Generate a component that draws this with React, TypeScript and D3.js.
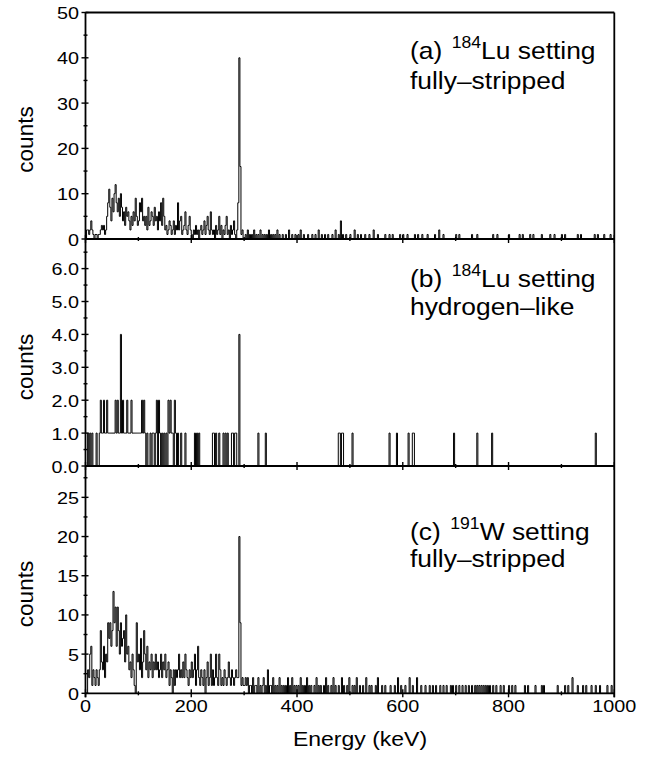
import React from "react";
import * as d3 from "d3";

// ---------- data ----------
const ENERGY_MAX = 1000;
const BIN_WIDTH = 2; // keV per channel

const xMajorTicks = [0, 200, 400, 600, 800, 1000];
const xMinorTicks = [100, 300, 500, 700, 900];

// panel (a): 184Lu setting, fully-stripped; dense counts for 0..298 keV (2 keV bins)
const panelALow = [
  0, 2, 2, 1, 2, 4, 2, 1, 0, 1,
  1, 0, 1, 1, 2, 3, 2, 3, 1, 2,
  5, 8, 11, 7, 4, 9, 6, 10, 12, 8,
  6, 9, 5, 10, 7, 4, 6, 3, 7, 5,
  6, 4, 2, 5, 3, 6, 4, 9, 5, 3,
  4, 8, 6, 9, 4, 5, 3, 5, 2, 7,
  3, 4, 6, 5, 3, 7, 4, 5, 2, 6,
  4, 8, 3, 9, 5, 2, 3, 1, 2, 4,
  3, 1, 2, 4, 1, 3, 2, 8, 2, 4,
  5, 1, 2, 3, 6, 2, 1, 3, 5, 2,
  1, 0, 2, 1, 3, 1, 2, 0, 2, 3,
  1, 2, 4, 1, 3, 5, 2, 1, 6, 2,
  1, 2, 0, 3, 1, 2, 5, 1, 3, 0,
  2, 1, 3, 5, 1, 2, 0, 3, 1, 2,
  4, 1, 0, 2, 8, 40, 16, 1, 2, 0,
];
// sparse counts above 300 keV: [energy, counts]
const panelAHigh: [number, number][] = [
  [302, 1], [306, 2], [310, 1], [314, 1], [318, 2], [322, 1], [326, 1], [330, 2], [334, 1],
  [338, 1], [342, 1], [346, 2], [350, 1], [354, 1], [358, 1], [362, 2], [366, 1], [372, 1],
  [378, 1], [384, 2], [390, 1], [396, 1], [402, 1], [406, 2], [412, 1], [420, 1], [428, 1],
  [434, 1], [440, 2], [446, 1], [452, 1], [458, 1], [466, 1], [472, 2], [478, 1], [482, 4],
  [486, 1], [492, 1], [500, 1], [508, 2], [514, 1], [520, 1], [528, 1], [536, 1], [544, 2],
  [552, 1], [566, 1], [574, 1], [580, 1], [594, 1], [600, 1], [608, 1], [622, 1], [628, 1],
  [636, 1], [646, 1], [660, 1], [668, 2], [676, 1], [700, 1], [706, 1], [730, 1], [740, 1],
  [770, 1], [778, 1], [800, 1], [820, 1], [826, 1], [840, 1], [846, 1], [862, 1], [878, 1],
  [886, 1], [900, 1], [906, 1], [930, 1], [936, 1], [962, 1], [968, 1], [980, 1], [992, 1],
];

// panel (b): 184Lu setting, hydrogen-like; sparse [energy, counts]
const panelBCounts: [number, number][] = [
  [4, 1], [8, 1], [12, 1], [20, 1], [26, 1], [28, 2], [30, 1], [32, 1], [34, 2], [36, 1],
  [38, 1], [40, 2], [42, 1], [44, 1], [46, 1], [48, 1], [50, 1], [52, 1], [54, 1], [56, 2],
  [58, 1], [60, 2], [62, 1], [64, 1], [66, 4], [68, 1], [70, 2], [72, 1], [74, 1], [76, 1],
  [78, 2], [80, 1], [82, 1], [84, 1], [86, 2], [88, 1], [90, 1], [92, 1], [94, 1], [96, 1],
  [98, 1], [100, 1], [102, 1], [104, 1], [106, 2], [108, 1], [110, 2], [112, 1], [116, 1],
  [122, 1], [126, 1], [128, 1], [132, 1], [134, 2], [138, 2], [140, 1], [144, 1], [148, 1],
  [152, 1], [156, 2], [158, 1], [160, 2], [162, 1], [164, 1], [168, 2], [170, 1], [174, 1],
  [180, 1], [188, 1], [206, 1], [210, 1], [214, 1], [240, 1], [242, 1], [246, 1], [252, 1],
  [260, 1], [264, 1], [268, 1], [276, 1], [278, 1], [282, 1], [284, 1], [290, 4], [326, 1],
  [340, 1], [478, 1], [480, 1], [484, 1], [486, 1], [504, 1], [574, 1], [588, 1], [610, 1],
  [618, 1], [620, 1], [696, 1], [740, 1], [768, 1], [964, 1],
];

// panel (c): 191W setting, fully-stripped; dense counts for 0..298 keV
const panelCLow = [
  0, 0, 3, 2, 5, 6, 1, 3, 2, 1,
  3, 2, 1, 3, 8, 4, 3, 6, 2, 5,
  4, 9, 7, 9, 6, 8, 13, 9, 11, 6,
  11, 8, 5, 9, 6, 7, 8, 4, 10, 5,
  6, 3, 4, 2, 5, 3, 1, 0, 9, 4,
  5, 3, 7, 2, 4, 8, 5, 3, 6, 2,
  4, 3, 5, 2, 4, 3, 5, 3, 4, 2,
  3, 5, 2, 4, 3, 5, 2, 3, 4, 1,
  3, 2, 0, 3, 1, 3, 2, 3, 5, 2,
  3, 2, 4, 2, 5, 3, 2, 1, 3, 2,
  4, 2, 3, 5, 1, 3, 6, 2, 1, 3,
  2, 1, 3, 0, 2, 4, 1, 2, 5, 1,
  3, 1, 2, 5, 2, 1, 5, 3, 1, 2,
  1, 3, 2, 1, 2, 4, 2, 1, 3, 2,
  1, 2, 3, 2, 2, 20, 9, 1, 2, 1,
];
const panelCHigh: [number, number][] = [
  [300, 1], [302, 2], [304, 1], [306, 2], [310, 1], [312, 1], [316, 2], [320, 1], [322, 1],
  [326, 2], [330, 1], [334, 1], [336, 2], [340, 1], [344, 3], [348, 1], [350, 1], [354, 2],
  [358, 1], [362, 1], [366, 2], [370, 1], [374, 1], [378, 1], [382, 2], [386, 1], [390, 2],
  [394, 1], [398, 1], [402, 1], [406, 2], [410, 1], [414, 1], [418, 2], [422, 1], [426, 1],
  [432, 1], [436, 2], [440, 1], [444, 1], [450, 1], [454, 2], [458, 1], [464, 1], [468, 2],
  [472, 1], [478, 1], [484, 2], [488, 1], [494, 1], [498, 2], [504, 1], [508, 1], [512, 2],
  [518, 1], [524, 1], [530, 2], [536, 1], [540, 1], [548, 1], [552, 2], [560, 1], [566, 1],
  [576, 1], [584, 1], [590, 2], [596, 1], [604, 1], [612, 2], [618, 1], [626, 2], [634, 1],
  [642, 1], [650, 1], [656, 1], [662, 1], [670, 1], [676, 1], [682, 1], [690, 1], [694, 1],
  [700, 1], [706, 1], [712, 1], [718, 1], [724, 1], [730, 1], [736, 1], [740, 1], [744, 1],
  [748, 1], [752, 1], [756, 1], [760, 1], [764, 1], [770, 1], [776, 1], [784, 1], [790, 1],
  [800, 1], [806, 1], [812, 1], [830, 1], [836, 1], [850, 1], [862, 1], [866, 1], [892, 1],
  [906, 1], [912, 1], [920, 2], [930, 1], [940, 1], [946, 1], [956, 1], [964, 1], [972, 1],
  [986, 1], [994, 1],
];

const yMajorA = [0, 10, 20, 30, 40, 50];
const yMinorA = [5, 15, 25, 35, 45];
const yMajorB = [0, 1, 2, 3, 4, 5, 6];
const yMinorB = [0.5, 1.5, 2.5, 3.5, 4.5, 5.5, 6.5];
const yMajorC = [0, 5, 10, 15, 20, 25];
const yMinorC = [2.5, 7.5, 12.5, 17.5, 22.5, 27.5];

// ---------- layout ----------
const W = 656;
const H = 760;
const X0 = 85.5;
const X1 = 614.3;
const FONT = "'Liberation Sans', Arial, Helvetica, sans-serif";
const TICK_SX = 1.2;

function toBins(low: number[], high: [number, number][]) {
  const n = ENERGY_MAX / BIN_WIDTH;
  const arr = new Array(n).fill(0);
  low.forEach((v, i) => (arr[i] = v));
  high.forEach(([e, c]) => (arr[Math.round(e / BIN_WIDTH)] = c));
  return arr;
}

const x = d3.scaleLinear().domain([0, ENERGY_MAX]).range([X0, X1]);

type PanelDef = {
  id: string;
  top: number;
  bottom: number;
  ymax: number;
  majors: number[];
  minors: number[];
  fmt: (v: number) => string;
  bins: number[];
  tag: string;
  iso: string;
  elem: string;
  line2: string;
  labelY: number;
  lineGap: number;
  countsY: number;
};

const panels: PanelDef[] = [
  {
    id: "a", top: 12.5, bottom: 239, ymax: 50, majors: yMajorA, minors: yMinorA,
    fmt: (v) => String(v), bins: toBins(panelALow, panelAHigh),
    tag: "(a) ", iso: "184", elem: "Lu setting", line2: "fully\u2013stripped",
    labelY: 59, lineGap: 30, countsY: 139.5,
  },
  {
    id: "b", top: 239, bottom: 466, ymax: 6.9, majors: yMajorB, minors: yMinorB,
    fmt: (v) => v.toFixed(1), bins: toBins([], panelBCounts),
    tag: "(b) ", iso: "184", elem: "Lu setting", line2: "hydrogen\u2013like",
    labelY: 287, lineGap: 28.5, countsY: 367,
  },
  {
    id: "c", top: 466, bottom: 693.3, ymax: 29, majors: yMajorC, minors: yMinorC,
    fmt: (v) => String(v), bins: toBins(panelCLow, panelCHigh),
    tag: "(c) ", iso: "191", elem: "W setting", line2: "fully\u2013stripped",
    labelY: 540, lineGap: 27.5, countsY: 594,
  },
];

function Panel({ p, last }: { p: PanelDef; last: boolean }) {
  const y = d3.scaleLinear().domain([0, p.ymax]).range([p.bottom, p.top]);
  const pts: [number, number][] = p.bins.map((c, i) => [i * BIN_WIDTH, c]);
  pts.push([ENERGY_MAX, p.bins[p.bins.length - 1]]);
  const path = d3
    .line<[number, number]>()
    .x((d) => x(d[0]))
    .y((d) => y(d[1]))
    .curve(d3.curveStepAfter)(pts) as string;

  return (
    <g>
      <clipPath id={`clip-${p.id}`}>
        <rect x={X0} y={p.top} width={X1 - X0} height={p.bottom - p.top} />
      </clipPath>
      <path d={path} fill="none" stroke="#000" strokeWidth={1} clipPath={`url(#clip-${p.id})`} />
      {/* bottom axis line */}
      <line x1={X0} x2={X1} y1={p.bottom} y2={p.bottom} stroke="#000" strokeWidth={1.8} />
      {/* x ticks */}
      {xMajorTicks.map((t) => (
        <line key={`xm${t}`} x1={x(t)} x2={x(t)} y1={p.bottom - 4} y2={p.bottom + 4} stroke="#000" strokeWidth={1.4} />
      ))}
      {xMinorTicks.map((t) => (
        <line key={`xn${t}`} x1={x(t)} x2={x(t)} y1={p.bottom - 2} y2={p.bottom + 2} stroke="#000" strokeWidth={1.4} />
      ))}
      {/* y ticks */}
      {p.majors.map((t) => (
        <g key={`ym${t}`}>
          <line x1={X0 - 4} x2={X0 + 3} y1={y(t)} y2={y(t)} stroke="#000" strokeWidth={1.4} />
          <text
            transform={`translate(${X0 - 6.5},${y(t) + 6.5}) scale(${TICK_SX},1)`}
            textAnchor="end"
            fontSize={16.5}
            fontFamily={FONT}
            fill="#000"
          >
            {p.fmt(t)}
          </text>
        </g>
      ))}
      {p.minors.map((t) => (
        <line key={`yn${t}`} x1={X0 - 2} x2={X0 + 2} y1={y(t)} y2={y(t)} stroke="#000" strokeWidth={1.4} />
      ))}
      {/* counts label */}
      <text
        transform={`translate(33,${p.countsY}) rotate(-90)`}
        textAnchor="middle"
        fontSize={22.5}
        fontFamily={FONT}
        fill="#000"
      >
        counts
      </text>
      {/* annotation */}
      <g transform={`translate(410,${p.labelY}) scale(1.1,1)`}>
        <text x={0} y={0} fontSize={24} fontFamily={FONT} fill="#000">
          <tspan>{p.tag}</tspan>
          <tspan dx={2} dy={-11.5} fontSize={16}>{p.iso}</tspan>
          <tspan dy={11.5}>{p.elem}</tspan>
        </text>
        <text x={0} y={p.lineGap} fontSize={24} fontFamily={FONT} fill="#000">
          {p.line2}
        </text>
      </g>
      {last &&
        xMajorTicks.map((t) => (
          <text
            key={`xl${t}`}
            transform={`translate(${x(t)},${p.bottom + 18.5}) scale(${TICK_SX},1)`}
            textAnchor="middle"
            fontSize={16.5}
            fontFamily={FONT}
            fill="#000"
          >
            {t}
          </text>
        ))}
    </g>
  );
}

export default function App() {
  const top = panels[0].top;
  const bottom = panels[panels.length - 1].bottom;
  return (
    <svg
      width={W}
      height={H}
      viewBox={`0 0 ${W} ${H}`}
      style={{ position: "absolute", left: 0, top: 0, background: "#fff" }}
    >
      <rect x={0} y={0} width={W} height={H} fill="#fff" />
      {panels.map((p, i) => (
        <Panel key={p.id} p={p} last={i === panels.length - 1} />
      ))}
      {/* frame */}
      <line x1={X0} x2={X1} y1={top} y2={top} stroke="#000" strokeWidth={1.8} />
      <line x1={X0} x2={X0} y1={top} y2={bottom + 4} stroke="#000" strokeWidth={1.8} />
      <line x1={X1} x2={X1} y1={top} y2={bottom + 4} stroke="#000" strokeWidth={1.8} />
      <text
        transform={`translate(360,746) scale(1.15,1)`}
        textAnchor="middle"
        fontSize={20}
        fontFamily={FONT}
        fill="#000"
      >
        Energy (keV)
      </text>
    </svg>
  );
}
